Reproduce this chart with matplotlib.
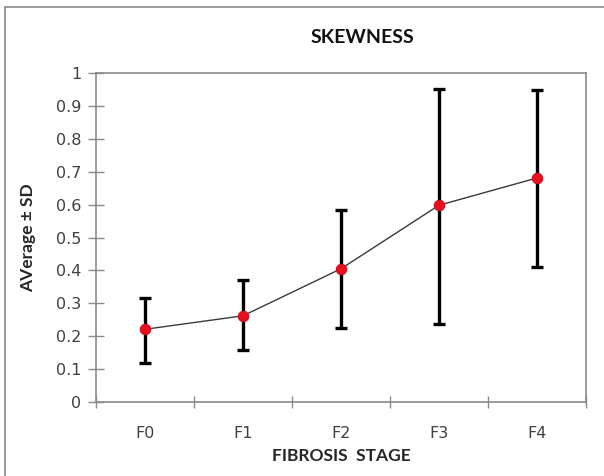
import matplotlib
matplotlib.use("Agg")
import matplotlib.pyplot as plt
from matplotlib.patches import Rectangle

categories = ["F0", "F1", "F2", "F3", "F4"]
means = [0.221, 0.262, 0.405, 0.598, 0.681]
upper = [0.317, 0.371, 0.584, 0.952, 0.948]
lower = [0.119, 0.158, 0.226, 0.236, 0.410]
yticks = [0, 0.1, 0.2, 0.3, 0.4, 0.5, 0.6, 0.7, 0.8, 0.9, 1]
ytick_labels = ["0", "0.1", "0.2", "0.3", "0.4", "0.5", "0.6", "0.7", "0.8", "0.9", "1"]

W, H = 604, 476
fig = plt.figure(figsize=(W / 100, H / 100), dpi=100)
fig.patch.set_facecolor("white")

# chart border
fig.patches.append(Rectangle((5 / W, -0.1), 1.2, 1 - 7 / H + 0.1, transform=fig.transFigure,
                             fill=False, edgecolor="#8a8a8a", linewidth=1.2))

ax = fig.add_axes([96 / W, 1 - 402 / H, (586 - 96) / W, (402 - 73) / H])

x = list(range(len(categories)))
yerr_lo = [m - l for m, l in zip(means, lower)]
yerr_hi = [u - m for m, u in zip(means, upper)]

ax.errorbar(x, means, yerr=[yerr_lo, yerr_hi], fmt="none", ecolor="black",
            elinewidth=2.4, capsize=4.5, capthick=2.4, zorder=2)
ax.plot(x, means, color="#3a3a3a", linewidth=1.0, zorder=3)
ax.plot(x, means, linestyle="none", marker="o", markersize=7.5,
        markerfacecolor="#e8101e", markeredgecolor="#c8101e", markeredgewidth=0.8, zorder=4)

ax.set_xlim(-0.5, 4.5)
ax.set_ylim(0, 1)

ax.set_yticks(yticks)
ax.set_yticklabels(ytick_labels)
ax.set_xticks(x)
ax.set_xticklabels(categories)
ax.set_xticks([i - 0.5 for i in range(len(categories) + 1)], minor=True)

for s in ax.spines.values():
    s.set_color("#8a8a8a")
    s.set_linewidth(1.2)

ax.tick_params(axis="y", which="major", direction="inout", length=11, width=1.0,
               color="#8a8a8a", labelsize=11.5, labelcolor="#404040", pad=5)
ax.tick_params(axis="x", which="major", length=0, labelsize=11.5, labelcolor="#404040", pad=17)
ax.tick_params(axis="x", which="minor", direction="inout", length=9, width=1.0, color="#8a8a8a")

for lbl in ax.get_xticklabels() + ax.get_yticklabels():
    lbl.set_fontfamily("DejaVu Sans")

ax.set_xlabel("FIBROSIS  STAGE", fontsize=12.5, fontweight="bold", family="Lato",
              color="#262626", labelpad=5)
ax.set_ylabel("AVerage ± SD", fontsize=12.5, fontweight="bold", family="Lato",
              color="#262626", labelpad=14)

fig.text(362 / W, 1 - 38 / H, "SKEWNESS", ha="center", va="center", fontsize=14,
         fontweight="bold", family="Lato", color="#111111")

fig.savefig("out.png", dpi=100)
